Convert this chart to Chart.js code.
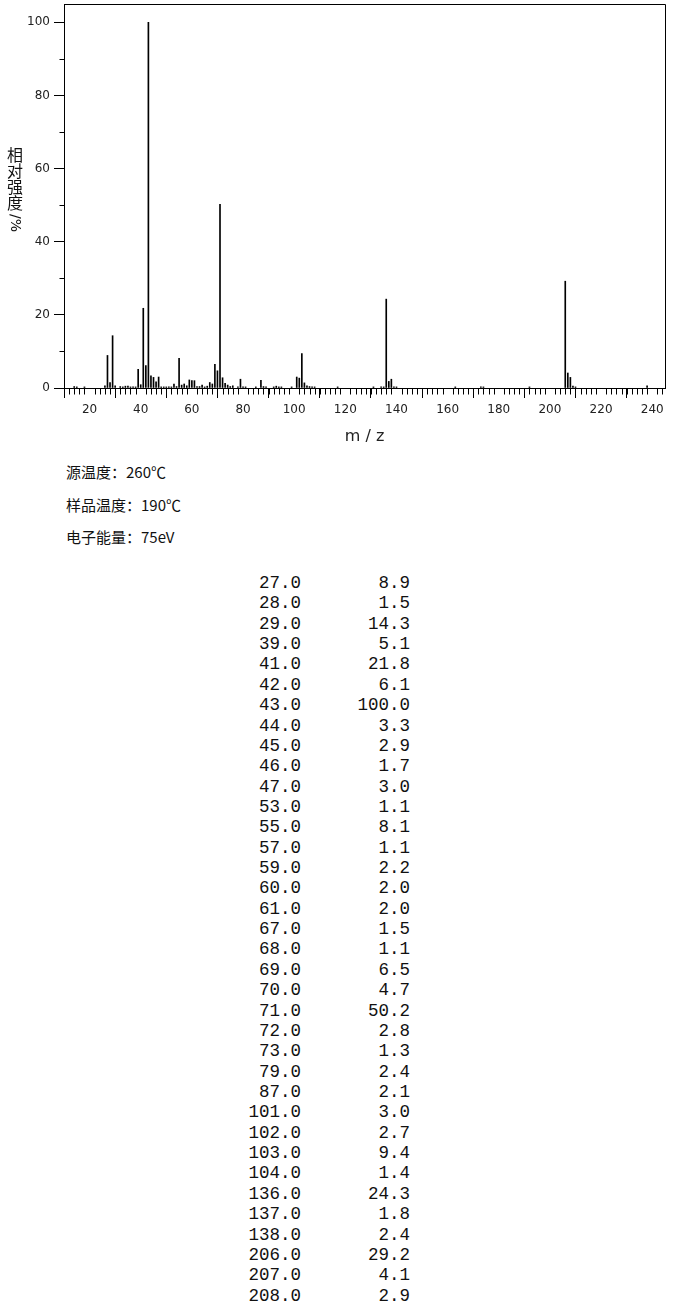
<!DOCTYPE html>
<html>
<head>
<meta charset="utf-8">
<script src="https://cdn.jsdelivr.net/npm/chart.js@4/dist/chart.umd.min.js"></script>
<style>
  body { margin: 0; background: #fff; width: 680px; height: 1304px; position: relative; overflow: hidden; color: #000; font-family: "Noto Sans CJK SC", sans-serif; }
  #wrap { position: absolute; left: 0; top: 0; width: 680px; height: 450px; }
  #ytitle { position: absolute; left: 7px; top: 146px; width: 16px; font-size: 16px; line-height: 16px; color: #111; text-align: center; }
  #ytitle div { height: 16px; }
  #ytitle .rot { display: block; width: 16px; height: 22px; margin-top: 2px; }
  #ytitle .rot span { display: inline-block; transform: rotate(90deg); transform-origin: 50% 50%; white-space: nowrap; font-family: "DejaVu Sans", sans-serif; font-size: 14px; margin-top: 3px; }
  .cond { position: absolute; left: 66px; font-size: 15px; line-height: 20px; color: #111; }
  #tbl { position: absolute; left: 0; top: 573px; width: 680px; font-family: "Liberation Mono", "DejaVu Sans Mono", monospace; font-size: 17.5px; color: #111; }
  .row { position: relative; height: 20.37px; line-height: 20.37px; }
  .row span { position: absolute; top: 0; white-space: pre; }
  .c1 { right: 379px; }
  .c2 { right: 270px; }
</style>
</head>
<body>
<div id="wrap"><canvas id="ms"></canvas></div>
<div id="ytitle"><div>相</div><div>对</div><div>强</div><div>度</div><div class="rot"><span>/%</span></div></div>
<div class="cond" style="top:462px">源温度：260℃</div>
<div class="cond" style="top:495px">样品温度：190℃</div>
<div class="cond" style="top:527px">电子能量：75eV</div>
<div id="tbl"></div>
<script>
// 表中列出的峰 (m/z, 相对强度%)
const peakMz = [27, 28, 29, 39, 41, 42, 43, 44, 45, 46, 47, 53, 55, 57, 59, 60, 61, 67, 68, 69,
                70, 71, 72, 73, 79, 87, 101, 102, 103, 104, 136, 137, 138, 206, 207, 208];
const peakInt = [8.9, 1.5, 14.3, 5.1, 21.8, 6.1, 100.0, 3.3, 2.9, 1.7, 3.0, 1.1, 8.1, 1.1, 2.2, 2.0, 2.0, 1.5, 1.1, 6.5,
                 4.7, 50.2, 2.8, 1.3, 2.4, 2.1, 3.0, 2.7, 9.4, 1.4, 24.3, 1.8, 2.4, 29.2, 4.1, 2.9];

// 图上可见但未列入表中的小峰 (估读)
const minorMz = [14, 15, 18, 26, 30, 32, 33, 34, 35, 36, 37, 38, 40, 48, 49, 50, 51, 52, 54, 56,
                 58, 62, 63, 64, 65, 66, 74, 75, 76, 78, 80, 81, 85, 88, 89, 92, 93, 94, 95, 99,
                 105, 106, 107, 108, 117, 131, 134, 135, 139, 140, 163, 173, 174, 192, 209, 210, 238];
const minorInt = [0.4, 0.3, 0.3, 0.6, 0.6, 0.4, 0.3, 0.5, 0.5, 0.3, 0.3, 0.3, 0.9, 0.3, 0.3, 0.3, 0.3, 0.3, 0.4, 0.8,
                  0.6, 0.4, 0.4, 0.8, 0.3, 0.5, 0.8, 0.4, 0.6, 0.3, 0.3, 0.3, 0.3, 0.4, 0.3, 0.3, 0.5, 0.3, 0.3, 0.3,
                  0.6, 0.4, 0.3, 0.3, 0.3, 0.3, 0.3, 0.3, 0.3, 0.3, 0.3, 0.3, 0.3, 0.3, 0.5, 0.3, 0.6];

// 坐标轴刻度
const xTickVals = [20, 40, 60, 80, 100, 120, 140, 160, 180, 200, 220, 240];
const yTickVals = [0, 20, 40, 60, 80, 100];
const xMin = 10, xMax = 245;
const yMin = 0, yMax = 105;

// 表格
const tbl = document.getElementById('tbl');
peakMz.forEach((m, i) => {
    const row = document.createElement('div');
    row.className = 'row';
    row.innerHTML = '<span class="c1">' + m.toFixed(1) + '</span><span class="c2">' + peakInt[i].toFixed(1) + '</span>';
    tbl.appendChild(row);
});

const bars = [];
peakMz.forEach((m, i) => bars.push({x: m, y: peakInt[i]}));
minorMz.forEach((m, i) => bars.push({x: m, y: minorInt[i]}));
bars.sort((a, b) => a.x - b.x);

// 边框和次刻度
const framePlugin = {
    id: 'frame',
    afterDraw(chart) {
        const ctx = chart.ctx;
        const a = chart.chartArea;
        const xs = chart.scales.x, ys = chart.scales.y;
        const L = Math.round(a.left) + 0.5, R = Math.round(a.right) + 0.5;
        const T = Math.round(a.top) + 0.5, B = Math.round(a.bottom) + 0.5;
        ctx.save();
        ctx.strokeStyle = '#000';
        ctx.lineWidth = 1;
        ctx.beginPath();
        ctx.moveTo(L, B);
        ctx.lineTo(L, T);
        ctx.lineTo(R, T);
        ctx.lineTo(R, B);
        ctx.lineTo(L, B);
        // x 次刻度
        for (let v = xMin; v <= xMax; v += 2) {
            if (v % 20 === 0) continue;
            const px = Math.round(xs.getPixelForValue(v)) + 0.5;
            ctx.moveTo(px, B);
            ctx.lineTo(px, B + (v === xMin ? 7 : 6));
        }
        // y 次刻度
        for (let v = 10; v < yMax; v += 20) {
            const py = Math.round(ys.getPixelForValue(v)) + 0.5;
            ctx.moveTo(L, py);
            ctx.lineTo(L - 5, py);
        }
        ctx.stroke();
        ctx.restore();
    }
};

new Chart(document.getElementById('ms'), {
    type: 'bar',
    data: {
        datasets: [{
            data: bars,
            backgroundColor: '#000',
            borderWidth: 0,
            barThickness: 1,
            grouped: false
        }]
    },
    options: {
        responsive: true,
        maintainAspectRatio: false,
        animation: false,
        layout: { padding: { top: 4, right: 15, left: 0, bottom: 0 } },
        plugins: { legend: { display: false }, tooltip: { enabled: false } },
        scales: {
            x: {
                type: 'linear',
                min: xMin,
                max: xMax,
                offset: false,
                afterBuildTicks: s => { s.ticks = xTickVals.map(v => ({value: v})); },
                afterFit: s => { s.height = 62; s.paddingLeft = 0; s.paddingRight = 0; },
                grid: { display: true, drawOnChartArea: false, drawTicks: true, tickLength: 10, color: '#000' },
                border: { display: true, color: '#000' },
                ticks: { padding: 5, maxRotation: 0, autoSkip: false, color: '#222',
                         font: { family: 'DejaVu Sans', size: 12 } },
                title: { display: true, text: 'm / z', color: '#222', padding: { top: 0, bottom: 4 },
                         font: { family: 'DejaVu Sans', size: 16 } }
            },
            y: {
                min: yMin,
                max: yMax,
                afterBuildTicks: s => { s.ticks = yTickVals.map(v => ({value: v})); },
                afterFit: s => { s.width = 64; s.paddingTop = 0; s.paddingBottom = 0; },
                grid: { display: true, drawOnChartArea: false, drawTicks: true, tickLength: 10, color: '#000' },
                border: { display: true, color: '#000' },
                ticks: { padding: 4, color: '#222',
                         font: { family: 'DejaVu Sans', size: 12 } }
            }
        }
    },
    plugins: [framePlugin]
});
</script>
</body>
</html>
